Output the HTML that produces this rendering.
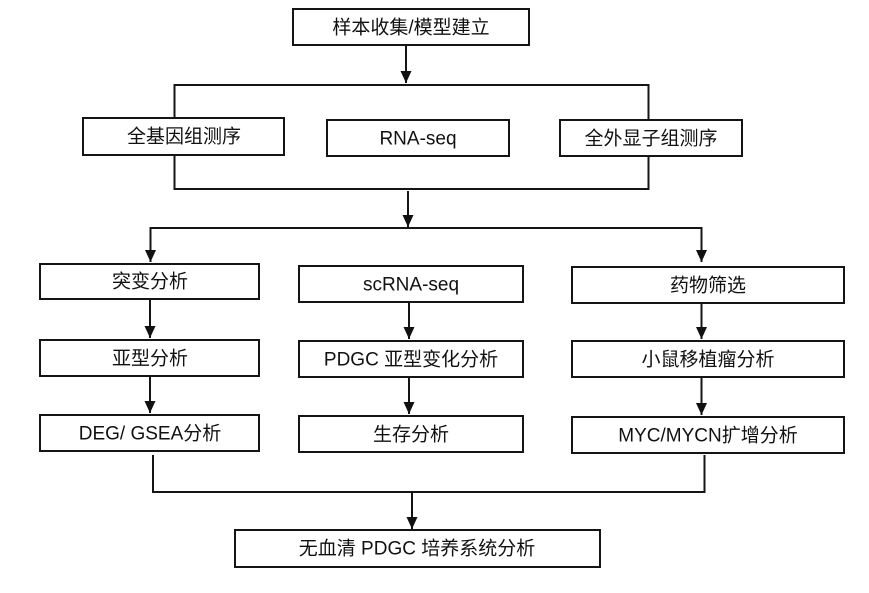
<!DOCTYPE html>
<html><head><meta charset="utf-8">
<style>
html,body{margin:0;padding:0;background:#fff;}
svg{display:block;}
text{font-family:"Liberation Sans","Noto Sans CJK SC",sans-serif;font-size:19px;fill:#111;text-anchor:middle;dominant-baseline:central;}
</style></head>
<body>
<svg width="869" height="593" viewBox="0 0 869 593" xmlns="http://www.w3.org/2000/svg">
<defs>
<marker id="ah" markerWidth="14" markerHeight="14" refX="12" refY="5.5" orient="auto" markerUnits="userSpaceOnUse">
<path d="M0,0 L12,5.5 L0,11 Z" fill="#111"/>
</marker>
</defs>
<g stroke="#151515" stroke-width="2" fill="none">
<line x1="406" y1="46" x2="406" y2="83" marker-end="url(#ah)"/>
<rect x="174.5" y="85" width="474" height="104"/>
<line x1="408" y1="191" x2="408" y2="227" marker-end="url(#ah)"/>
<path d="M150.5 262 V228 H701.5 V262"/>
<line x1="150.5" y1="240" x2="150.5" y2="262" marker-end="url(#ah)"/>
<line x1="701.5" y1="240" x2="701.5" y2="262" marker-end="url(#ah)"/>
<line x1="150" y1="300" x2="150" y2="338" marker-end="url(#ah)"/>
<line x1="150" y1="377" x2="150" y2="413" marker-end="url(#ah)"/>
<line x1="409" y1="303" x2="409" y2="339" marker-end="url(#ah)"/>
<line x1="409" y1="378" x2="409" y2="414" marker-end="url(#ah)"/>
<line x1="701.5" y1="304" x2="701.5" y2="339" marker-end="url(#ah)"/>
<line x1="701.5" y1="378" x2="701.5" y2="415" marker-end="url(#ah)"/>
<path d="M153 455 V492 H704.5 V455"/>
<line x1="412" y1="492" x2="412" y2="529" marker-end="url(#ah)"/>
</g>
<g stroke="#151515" stroke-width="2" fill="#fff">
<rect x="293" y="9" width="236" height="36"/>
<rect x="83" y="118" width="201" height="37"/>
<rect x="327" y="120" width="182" height="36"/>
<rect x="560" y="120" width="182" height="36"/>
<rect x="40" y="264" width="219" height="35"/>
<rect x="299" y="266" width="224" height="36"/>
<rect x="572" y="267" width="272" height="36"/>
<rect x="40" y="340" width="219" height="36"/>
<rect x="299" y="341" width="224" height="36"/>
<rect x="572" y="341" width="272" height="36"/>
<rect x="40" y="415" width="219" height="36"/>
<rect x="299" y="416" width="224" height="36"/>
<rect x="572" y="417" width="272" height="36"/>
<rect x="235" y="530" width="365" height="37"/>
</g>
<text x="411" y="28">样本收集/模型建立</text>
<text x="184" y="137">全基因组测序</text>
<text x="418" y="139">RNA-seq</text>
<text x="651" y="139">全外显子组测序</text>
<text x="150" y="282">突变分析</text>
<text x="411" y="285">scRNA-seq</text>
<text x="708" y="286">药物筛选</text>
<text x="150" y="359">亚型分析</text>
<text x="411" y="360">PDGC 亚型变化分析</text>
<text x="708" y="360">小鼠移植瘤分析</text>
<text x="150" y="434">DEG/ GSEA分析</text>
<text x="411" y="435">生存分析</text>
<text x="708" y="436">MYC/MYCN扩增分析</text>
<text x="417" y="549">无血清 PDGC 培养系统分析</text>
</svg>
</body></html>
